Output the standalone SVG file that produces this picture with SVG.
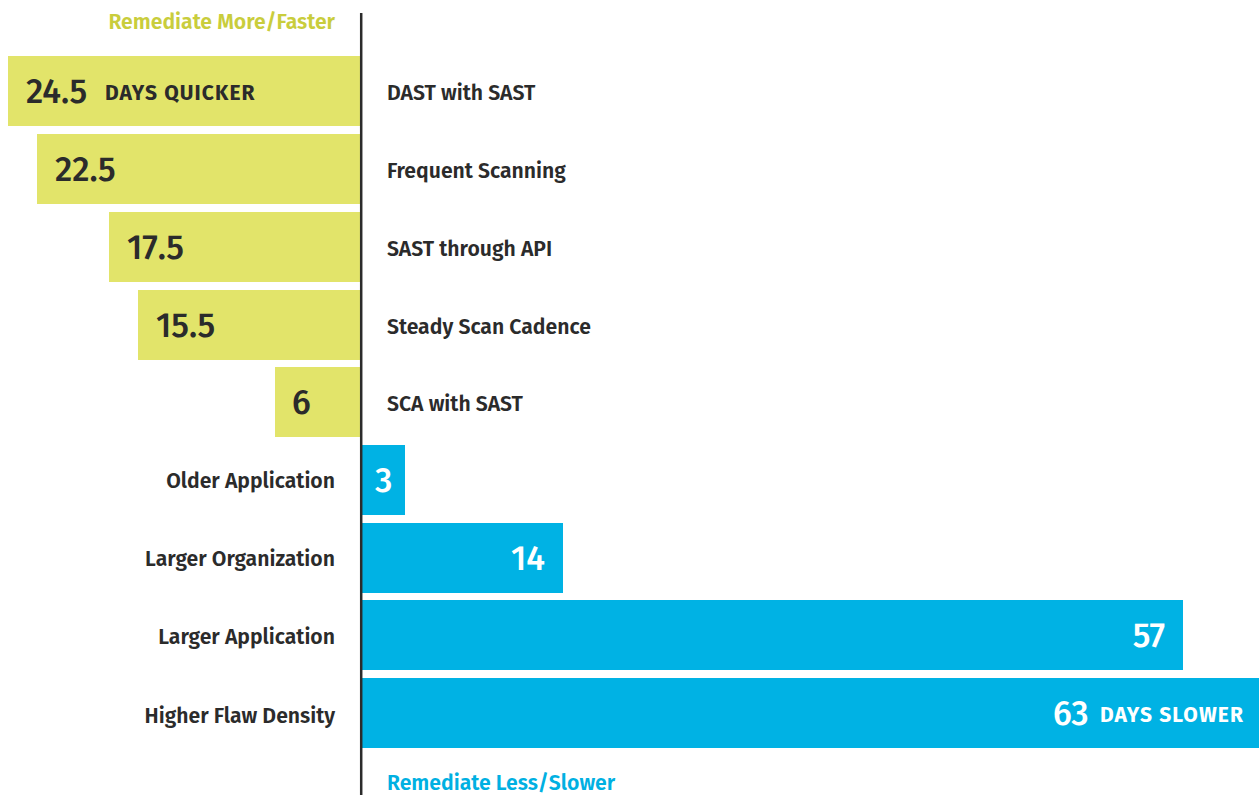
<svg xmlns="http://www.w3.org/2000/svg" width="1259" height="795" viewBox="0 0 1259 795">
<style>
.y{fill:#e2e46a}
.b{fill:#00b2e4}
.lab{font-family:"Fira Sans","Open Sans","Liberation Sans",sans-serif;font-weight:600;font-size:21.2px;fill:#2b2b2b}
.num{font-family:"Fira Sans","Open Sans","Liberation Sans",sans-serif;font-weight:500;font-size:34px;fill:#2b2b2b}
.unit{font-family:"Fira Sans","Open Sans","Liberation Sans",sans-serif;font-weight:700;font-size:21px;fill:#2b2b2b;letter-spacing:1.1px}
.w{fill:#ffffff}
.r{text-anchor:end}
</style>
<rect width="1259" height="795" fill="#ffffff"/>
<text class="lab r" x="335" y="29" style="fill:#c9cd3c">Remediate More/Faster</text>
<text class="lab" x="387" y="790" style="fill:#00b0e2">Remediate Less/Slower</text>
<g id="n1"><rect class="y" x="8" y="56" width="352" height="70"/><text class="num" x="26" y="103">24.5</text><text class="unit" x="105" y="100">DAYS QUICKER</text><text class="lab" x="387" y="100">DAST with SAST</text></g>
<g id="n2"><rect class="y" x="37" y="134" width="323" height="70"/><text class="num" x="55" y="181">22.5</text><text class="lab" x="387" y="178">Frequent Scanning</text></g>
<g id="n3"><rect class="y" x="109" y="212" width="251" height="70"/><text class="num" x="127" y="259">17.5</text><text class="lab" x="387" y="256">SAST through API</text></g>
<g id="n4"><rect class="y" x="138" y="290" width="222" height="70"/><text class="num" x="156" y="337">15.5</text><text class="lab" x="387" y="334">Steady Scan Cadence</text></g>
<g id="n5"><rect class="y" x="275" y="367" width="85" height="70"/><text class="num" x="292" y="414">6</text><text class="lab" x="387" y="411">SCA with SAST</text></g>
<g id="n6"><rect class="b" x="362" y="445" width="43" height="70"/><text class="num w" x="375" y="492">3</text><text class="lab r" x="335" y="488">Older Application</text></g>
<g id="n7"><rect class="b" x="362" y="523" width="201" height="70"/><text class="num w r" x="545" y="570">14</text><text class="lab r" x="335" y="566">Larger Organization</text></g>
<g id="n8"><rect class="b" x="362" y="600" width="821" height="70"/><text class="num w r" x="1165" y="647">57</text><text class="lab r" x="335" y="644">Larger Application</text></g>
<g id="n9"><rect class="b" x="362" y="678" width="897" height="70"/><text class="num w" x="1053" y="725">63</text><text class="unit w" x="1100" y="722">DAYS SLOWER</text><text class="lab r" x="335" y="723">Higher Flaw Density</text></g>
<g id="connectors"><line x1="361.2" y1="13" x2="361.2" y2="795" stroke="#2b2b2b" stroke-width="2.5"/></g>
</svg>
